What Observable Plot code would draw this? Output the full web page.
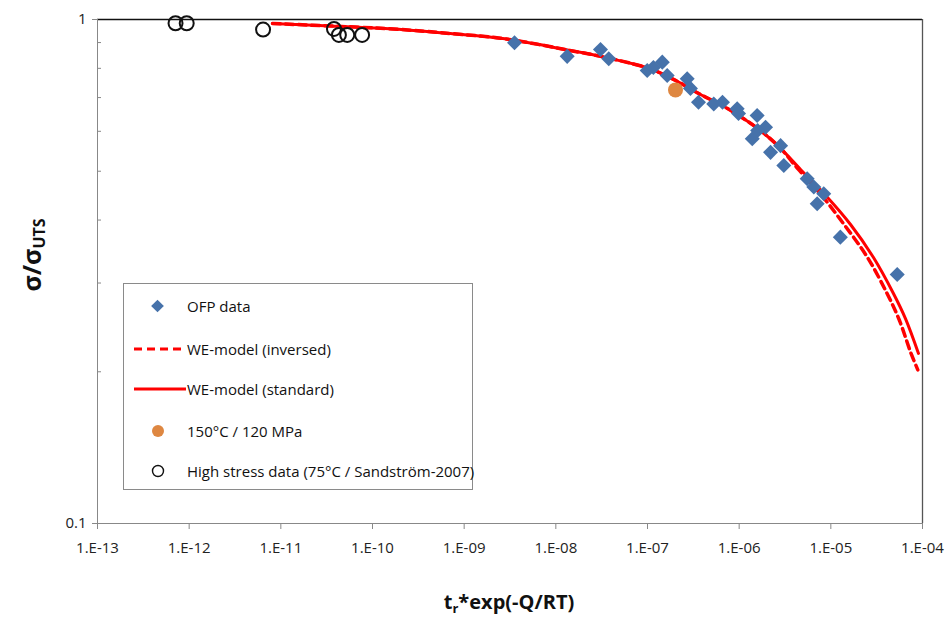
<!DOCTYPE html>
<html><head><meta charset="utf-8">
<script src="https://cdn.jsdelivr.net/npm/d3@7"></script>
<script src="https://cdn.jsdelivr.net/npm/@observablehq/plot@0.6"></script>
<style>
body{margin:0;background:#fff;font-family:"Open Sans",sans-serif;}
#wrap{position:relative;width:952px;height:623px;overflow:hidden;}
#legend{position:absolute;left:123px;top:283px;width:350px;height:207px;border:1px solid #8a8a8a;background:#fff;box-sizing:border-box;}
.row{position:absolute;left:0;height:24px;width:348px;}
.row svg{position:absolute;left:8px;top:0;}
.row span{position:absolute;left:63px;top:0;font-size:15px;line-height:24px;color:#111;white-space:nowrap;}
#ylab{position:absolute;left:32px;top:255px;transform:translate(-50%,-50%) rotate(-90deg);font-weight:bold;font-size:25px;white-space:nowrap;color:#111;}
#ylab sub{font-size:16px;vertical-align:-4px;}
#xlab{position:absolute;left:509px;top:602px;transform:translate(-50%,-50%);font-weight:bold;font-size:20px;white-space:nowrap;color:#111;}
#xlab sub{font-size:13px;vertical-align:-4px;}
</style></head><body>
<div id="wrap"></div>
<script>
// OFP data (diamonds)
const ofpX = [3.54e-9,1.33e-8,3.07e-8,3.78e-8,9.93e-8,1.16e-7,1.45e-7,1.64e-7,2.71e-7,2.94e-7,3.60e-7,5.28e-7,6.58e-7,9.51e-7,9.84e-7,1.57e-6,1.94e-6,1.59e-6,1.39e-6,2.83e-6,2.20e-6,3.07e-6,5.52e-6,6.52e-6,8.37e-6,7.10e-6,1.27e-5,5.30e-5];
const ofpY = [0.899,0.845,0.872,0.836,0.792,0.803,0.823,0.774,0.763,0.730,0.685,0.680,0.685,0.665,0.651,0.645,0.611,0.602,0.580,0.562,0.545,0.513,0.483,0.465,0.451,0.431,0.370,0.312];
// 150°C / 120 MPa
const orangeX = [2.02e-7];
const orangeY = [0.725];
// High stress data (75°C / Sandström-2007)
const hsX = [7.1e-13,9.4e-13,6.4e-12,3.8e-11,4.3e-11,5.3e-11,7.7e-11];
const hsY = [0.983,0.983,0.955,0.958,0.932,0.932,0.932];
// WE-model (standard)
const stdX = [8.11e-12,3.48e-11,1.69e-10,7.10e-10,2.49e-9,5.70e-9,1.34e-8,3.07e-8,7.03e-8,1.08e-7,2.02e-7,3.78e-7,6.25e-7,1.03e-6,1.71e-6,2.83e-6,4.67e-6,8.75e-6,1.64e-5,2.92e-5,4.82e-5,6.52e-5,9.04e-5];
const stdY = [0.9819,0.9707,0.9575,0.938,0.918,0.896,0.870,0.845,0.816,0.798,0.757,0.710,0.678,0.642,0.602,0.555,0.504,0.448,0.392,0.337,0.286,0.255,0.2175];
// WE-model (inversed)
const invX = [8.11e-12,3.48e-11,1.69e-10,7.10e-10,2.49e-9,5.70e-9,1.34e-8,3.07e-8,7.03e-8,1.08e-7,2.02e-7,3.78e-7,6.25e-7,1.03e-6,1.71e-6,2.83e-6,4.43e-6,7.91e-6,1.38e-5,2.49e-5,4.12e-5,5.61e-5,7.52e-5,8.89e-5];
const invY = [0.9819,0.9707,0.9575,0.938,0.918,0.896,0.870,0.845,0.816,0.798,0.757,0.710,0.678,0.642,0.602,0.555,0.504,0.448,0.393,0.338,0.2857,0.2528,0.2172,0.2018];
// axis ticks
const xTicks = [1e-13,1e-12,1e-11,1e-10,1e-9,1e-8,1e-7,1e-6,1e-5,1e-4];
const xTickLabels = ["1.E-13","1.E-12","1.E-11","1.E-10","1.E-09","1.E-08","1.E-07","1.E-06","1.E-05","1.E-04"];
const yTicks = [0.1,1];
const yTickLabels = ["0.1","1"];
const yMinor = [0.2,0.3,0.4,0.5,0.6,0.7,0.8,0.9];

const zip = (xs, ys) => xs.map((x, i) => ({x, y: ys[i]}));
const ofp = zip(ofpX, ofpY), orange = zip(orangeX, orangeY), hs = zip(hsX, hsY);
const std = zip(stdX, stdY), inv = zip(invX, invY);
const xLab = new Map(xTicks.map((t, i) => [t, xTickLabels[i]]));
const yLab = new Map(yTicks.map((t, i) => [t, yTickLabels[i]]));

const BLUE = "#4672AA", ORANGE = "#DE8741", RED = "#FF0000";

const chart = Plot.plot({
  width: 952, height: 623,
  marginLeft: 97, marginRight: 30, marginTop: 19, marginBottom: 100,
  x: {type: "log", domain: [1e-13, 1e-4]},
  y: {type: "log", domain: [0.1, 1]},
  style: {fontFamily: "Open Sans, sans-serif", fontSize: "15px", color: "#222", background: "white", overflow: "visible"},
  marks: [
    Plot.ruleY([1], {stroke: "#111", strokeWidth: 1.3}),
    Plot.ruleX([1e-4], {stroke: "#555", strokeWidth: 1.3}),
    Plot.axisX({ticks: xTicks, tickFormat: d => xLab.get(d), tickSize: 6, tickPadding: 13, stroke: "#888", label: null}),
    Plot.axisY({ticks: yTicks, tickFormat: d => yLab.get(d), tickSize: 5, tickPadding: 6, stroke: "#888", label: null}),
    Plot.axisY({ticks: yMinor, tickFormat: () => "", tickSize: 4, dx: 4, stroke: "#888", label: null}),
    Plot.ruleY([0.1], {stroke: "#888"}),
    Plot.ruleX([1e-13], {stroke: "#888"}),
    Plot.line(std, {x: "x", y: "y", stroke: RED, strokeWidth: 3, curve: "catmull-rom"}),
    Plot.line(inv, {x: "x", y: "y", stroke: RED, strokeWidth: 3.5, strokeDasharray: "8,5", curve: "catmull-rom"}),
    Plot.dot(ofp, {x: "x", y: "y", symbol: "square", r: 6, rotate: 45, fill: BLUE, stroke: "none"}),
    Plot.dot(orange, {x: "x", y: "y", r: 7.5, fill: ORANGE, stroke: "none"}),
    Plot.dot(hs, {x: "x", y: "y", r: 7, fill: "none", stroke: "#111", strokeWidth: 2})
  ]
});
const wrap = document.getElementById("wrap");
wrap.appendChild(chart);

const legendItems = [
  {label: "OFP data", sym: `<svg width="54" height="24"><rect x="21" y="7.5" width="9" height="9" fill="${BLUE}" transform="rotate(45 25.5 12)"/></svg>`},
  {label: "WE-model (inversed)", sym: `<svg width="54" height="24"><line x1="2" x2="54" y1="12" y2="12" stroke="${RED}" stroke-width="3" stroke-dasharray="8,5"/></svg>`},
  {label: "WE-model (standard)", sym: `<svg width="54" height="24"><line x1="2" x2="54" y1="12" y2="12" stroke="${RED}" stroke-width="3"/></svg>`},
  {label: "150°C / 120 MPa", sym: `<svg width="54" height="24"><circle cx="26" cy="12" r="6" fill="${ORANGE}"/></svg>`},
  {label: "High stress data (75°C / Sandström-2007)", sym: `<svg width="54" height="24"><circle cx="26" cy="12" r="5.5" fill="none" stroke="#111" stroke-width="1.4"/></svg>`}
];
const rowTops = [10, 53, 93, 135, 175];
const lg = document.createElement("div");
lg.id = "legend";
lg.innerHTML = legendItems.map((d, i) => `<div class="row" style="top:${rowTops[i]}px">${d.sym}<span>${d.label}</span></div>`).join("");
wrap.appendChild(lg);

const yl = document.createElement("div");
yl.id = "ylab";
yl.innerHTML = "σ/σ<sub>UTS</sub>";
wrap.appendChild(yl);
const xl = document.createElement("div");
xl.id = "xlab";
xl.innerHTML = "t<sub>r</sub>*exp(-Q/RT)";
wrap.appendChild(xl);
</script>
</body></html>
